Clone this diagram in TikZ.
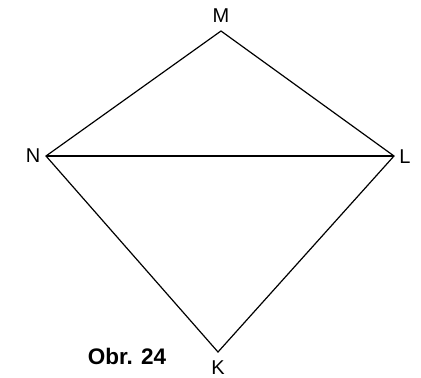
\documentclass[tikz,border=0pt]{standalone}
\usepackage{fontspec}
\setmainfont{Liberation Sans}
\usetikzlibrary{positioning}

\begin{document}
\begin{tikzpicture}[x=1pt,y=-1pt,line width=1.2pt,
  vlabel/.style={font=\fontsize{20}{22}\selectfont,inner sep=0pt}]
  \useasboundingbox (0,0) rectangle (421,378);
  % vertices
  \coordinate (M) at (221,31);
  \coordinate (N) at (46,156);
  \coordinate (L) at (394,156);
  \coordinate (K) at (218,352);
  \draw (N) -- (M) -- (L) -- (K) -- cycle;
  \draw (N) -- (L);
  % labels
  \node[vlabel] (lm) at (221,16) {M};
  \node[vlabel] (ln) at (33,156) {N};
  \node[vlabel] (ll) at (405,157) {L};
  \node[vlabel] (lk) at (218,368) {K};
  \node[font=\fontsize{22.5}{24}\selectfont\bfseries,inner sep=0pt] (obr) at (127,356) {Obr. 24};
\end{tikzpicture}
\end{document}
